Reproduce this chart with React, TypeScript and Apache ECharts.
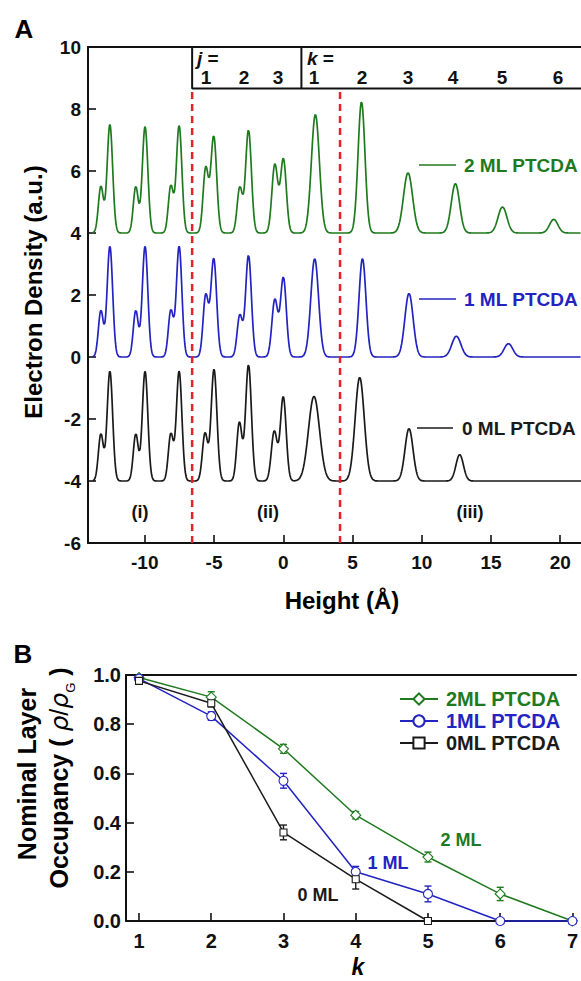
import React, { useEffect, useRef } from "react";
import * as echarts from "echarts";

// ---------- Panel A: electron density profiles (peak parameters) ----------
const PROFILE_START = -13.75; // Å, where the profiles begin
const PROFILE_END = 21.5;
const PROFILE_STEP = 0.02;

const GREEN_BASE = 4;
const GREEN_PEAK_X = [-13.17, -12.52, -10.65, -9.98, -8.12, -7.52, -5.6, -5.02, -3.14, -2.51, -0.61, 0.01, 2.32, 5.65, 9.01, 12.43, 15.83, 19.53];
const GREEN_PEAK_H = [1.5, 3.5, 1.49, 3.43, 1.51, 3.46, 2.08, 3.12, 1.46, 3.32, 2.2, 2.38, 3.82, 4.23, 1.94, 1.59, 0.84, 0.44];
const GREEN_PEAK_W = [0.18, 0.2, 0.18, 0.2, 0.18, 0.2, 0.19, 0.21, 0.19, 0.21, 0.21, 0.21, 0.29, 0.25, 0.33, 0.3, 0.32, 0.3];

const BLUE_BASE = 0;
const BLUE_PEAK_X = [-13.17, -12.52, -10.65, -9.98, -8.12, -7.52, -5.6, -5.02, -3.14, -2.51, -0.61, 0.01, 2.27, 5.72, 9.08, 12.5, 16.26];
const BLUE_PEAK_H = [1.49, 3.57, 1.49, 3.57, 1.49, 3.57, 1.97, 3.17, 1.34, 3.28, 1.84, 2.56, 3.17, 3.17, 2.05, 0.67, 0.43];
const BLUE_PEAK_W = [0.18, 0.2, 0.18, 0.2, 0.18, 0.2, 0.19, 0.21, 0.19, 0.21, 0.21, 0.21, 0.28, 0.25, 0.3, 0.33, 0.31];

const BLACK_BASE = -4;
const BLACK_PEAK_X = [-13.17, -12.52, -10.65, -9.98, -8.12, -7.52, -5.65, -5.0, -3.17, -2.51, -0.65, 0.0, 2.22, 5.52, 9.08, 12.74];
const BLACK_PEAK_H = [1.51, 3.54, 1.51, 3.54, 1.51, 3.54, 1.53, 3.6, 1.88, 3.75, 1.6, 2.71, 2.73, 3.34, 1.69, 0.85];
const BLACK_PEAK_W = [0.18, 0.2, 0.18, 0.2, 0.18, 0.2, 0.19, 0.21, 0.19, 0.21, 0.21, 0.21, 0.4, 0.33, 0.29, 0.27];

const REGION_BOUNDS = [-6.58, 4.1]; // red dashed lines, Å
const BOX_BOTTOM = 8.66;
const BOX_DIVIDER = 1.31;
const A_X_TICKS = [-10, -5, 0, 5, 10, 15, 20];

// ---------- Panel B: nominal layer occupancy ----------
const K_VALUES = [1, 2, 3, 4, 5, 6, 7];
const OCC_2ML = [0.99, 0.91, 0.7, 0.43, 0.26, 0.11, 0.0];
const ERR_2ML = [0.008, 0.022, 0.018, 0.015, 0.02, 0.027, 0];
const OCC_1ML = [0.985, 0.833, 0.57, 0.2, 0.11, 0.0, 0.0];
const ERR_1ML = [0.008, 0.017, 0.03, 0.022, 0.032, 0, 0];
const OCC_0ML = [0.976, 0.885, 0.36, 0.17, 0.0];
const ERR_0ML = [0.012, 0.015, 0.03, 0.04, 0];

const GREEN = "#1f7a1f";
const BLUE = "#2323c2";
const BLACK = "#1a1a1a";
const RED = "#e8202a";
const FONT = "'Liberation Sans', Arial, sans-serif";

function profile(base: number, xs: number[], hs: number[], ws: number[]) {
  const pts: number[][] = [];
  const n = Math.round((PROFILE_END - PROFILE_START) / PROFILE_STEP);
  for (let i = 0; i <= n; i++) {
    const x = PROFILE_START + i * PROFILE_STEP;
    let y = base;
    for (let j = 0; j < xs.length; j++) {
      const d = x - xs[j];
      y += hs[j] * Math.exp(-(d * d) / (2 * ws[j] * ws[j]));
    }
    pts.push([+x.toFixed(3), +y.toFixed(4)]);
  }
  return pts;
}

function errData(vals: number[], errs: number[]) {
  const out: number[][] = [];
  vals.forEach((v, i) => {
    if (errs[i] > 0) out.push([K_VALUES[i], v - errs[i], v + errs[i]]);
  });
  return out;
}

function errSeries(name: string, vals: number[], errs: number[], color: string) {
  return {
    type: "custom",
    name: name + " err",
    xAxisIndex: 2,
    yAxisIndex: 1,
    z: 3,
    silent: true,
    data: errData(vals, errs),
    encode: { x: 0, y: [1, 2] },
    renderItem: (params: any, api: any) => {
      const x = api.value(0);
      const top = api.coord([x, api.value(2)]);
      const bot = api.coord([x, api.value(1)]);
      const w = 3.5;
      const st = { stroke: color, lineWidth: 1.4 };
      return {
        type: "group",
        children: [
          { type: "line", shape: { x1: top[0], y1: top[1], x2: bot[0], y2: bot[1] }, style: st },
          { type: "line", shape: { x1: top[0] - w, y1: top[1], x2: top[0] + w, y2: top[1] }, style: st },
          { type: "line", shape: { x1: bot[0] - w, y1: bot[1], x2: bot[0] + w, y2: bot[1] }, style: st },
        ],
      };
    },
  };
}

function occSeries(name: string, vals: number[], color: string, symbol: string, size: number) {
  return {
    type: "line",
    name,
    xAxisIndex: 2,
    yAxisIndex: 1,
    z: 4,
    clip: false,
    data: vals.map((v, i) => [K_VALUES[i], v]),
    symbol,
    symbolSize: size,
    showSymbol: true,
    lineStyle: { color, width: 1.5 },
    itemStyle: { color: "#ffffff", borderColor: color, borderWidth: 1.1 },
  };
}

function txt(x: number, y: number, text: string, size: number, fill: string, extra: any = {}) {
  return {
    type: "text",
    x,
    y,
    silent: true,
    ...extra,
    style: {
      text,
      fill,
      fontSize: size,
      fontWeight: "bold",
      fontFamily: FONT,
      align: "center",
      verticalAlign: "middle",
      ...(extra.style || {}),
    },
  };
}

function seg(x1: number, y1: number, x2: number, y2: number, color: string, w = 1.6) {
  return { type: "line", silent: true, shape: { x1, y1, x2, y2 }, style: { stroke: color, lineWidth: w } };
}

export default function App() {
  const ref = useRef<HTMLDivElement>(null);
  useEffect(() => {
    if (!ref.current) return;
    const chart = echarts.init(ref.current, undefined, { renderer: "svg" });
    const axisLine = { show: true, onZero: false, lineStyle: { color: "#111", width: 2 } };
    const tick = { show: true, inside: true, length: 8, lineStyle: { color: "#111", width: 1.6 } };
    const lbl = { color: "#111", fontSize: 19, fontWeight: "bold", fontFamily: FONT };
    const jkRich = { i: { fontStyle: "italic", fontWeight: "bold", fontSize: 19, fontFamily: FONT, fill: "#111" } };

    const option: any = {
      animation: false,
      backgroundColor: "#ffffff",
      grid: [
        { left: 88, top: 47, width: 493, height: 496 },
        { left: 126, top: 675, width: 455, height: 246 },
      ],
      xAxis: [
        {
          type: "value", gridIndex: 0, min: -14.1, max: 21.5, position: "bottom",
          axisLine, axisTick: { ...tick, customValues: A_X_TICKS },
          axisLabel: { ...lbl, margin: 10, customValues: A_X_TICKS },
          splitLine: { show: false },
        },
        {
          type: "value", gridIndex: 0, min: -14.1, max: 21.5, position: "top",
          axisLine, axisTick: { show: false }, axisLabel: { show: false }, splitLine: { show: false },
        },
        {
          type: "value", gridIndex: 1, min: 0.82, max: 7.05, position: "bottom",
          axisLine, axisTick: { ...tick, customValues: K_VALUES },
          axisLabel: { ...lbl, fontSize: 20, margin: 10, customValues: K_VALUES },
          splitLine: { show: false },
        },
        {
          type: "value", gridIndex: 1, min: 0.82, max: 7.05, position: "top",
          axisLine, axisTick: { show: false }, axisLabel: { show: false }, splitLine: { show: false },
        },
      ],
      yAxis: [
        {
          type: "value", gridIndex: 0, min: -6, max: 10, interval: 2,
          axisLine, axisTick: tick, axisLabel: { ...lbl, margin: 7 }, splitLine: { show: false },
        },
        {
          type: "value", gridIndex: 1, min: 0, max: 1, interval: 0.2,
          axisLine, axisTick: tick,
          axisLabel: { ...lbl, fontSize: 20, margin: 5, formatter: (v: number) => v.toFixed(1) },
          splitLine: { show: false },
        },
      ],
      legend: {
        orient: "vertical",
        left: 394,
        top: 684,
        itemWidth: 38,
        itemHeight: 14,
        itemGap: 2,
        selectedMode: false,
        textStyle: { fontSize: 20, fontWeight: "bold", fontFamily: FONT, padding: [0, 0, 0, 3] },
        data: [
          { name: "2ML PTCDA", textStyle: { color: GREEN } },
          { name: "1ML PTCDA", textStyle: { color: BLUE } },
          { name: "0ML PTCDA", textStyle: { color: BLACK } },
        ],
      },
      series: [
        {
          type: "line", name: "2 ML profile", xAxisIndex: 0, yAxisIndex: 0, showSymbol: false, silent: true,
          data: profile(GREEN_BASE, GREEN_PEAK_X, GREEN_PEAK_H, GREEN_PEAK_W),
          lineStyle: { color: GREEN, width: 1.7 }, itemStyle: { color: GREEN },
        },
        {
          type: "line", name: "1 ML profile", xAxisIndex: 0, yAxisIndex: 0, showSymbol: false, silent: true,
          data: profile(BLUE_BASE, BLUE_PEAK_X, BLUE_PEAK_H, BLUE_PEAK_W),
          lineStyle: { color: BLUE, width: 1.7 }, itemStyle: { color: BLUE },
        },
        {
          type: "line", name: "0 ML profile", xAxisIndex: 0, yAxisIndex: 0, showSymbol: false, silent: true,
          data: profile(BLACK_BASE, BLACK_PEAK_X, BLACK_PEAK_H, BLACK_PEAK_W),
          lineStyle: { color: BLACK, width: 1.7 }, itemStyle: { color: BLACK },
        },
        ...REGION_BOUNDS.map((b, i) => ({
          type: "line", name: "bound" + i, xAxisIndex: 0, yAxisIndex: 0, showSymbol: false, silent: true, z: 5,
          data: [[b, -6], [b, BOX_BOTTOM]],
          lineStyle: { color: RED, width: 2.5, type: [7, 5] },
        })),
        {
          type: "line", name: "jbox", xAxisIndex: 0, yAxisIndex: 0, showSymbol: false, silent: true, z: 5,
          data: [[REGION_BOUNDS[0], 10], [REGION_BOUNDS[0], BOX_BOTTOM], [21.5, BOX_BOTTOM]],
          lineStyle: { color: "#111", width: 2 },
        },
        {
          type: "line", name: "kbox", xAxisIndex: 0, yAxisIndex: 0, showSymbol: false, silent: true, z: 5,
          data: [[BOX_DIVIDER, 10], [BOX_DIVIDER, BOX_BOTTOM]],
          lineStyle: { color: "#111", width: 2 },
        },
        errSeries("2ML PTCDA", OCC_2ML, ERR_2ML, GREEN),
        errSeries("1ML PTCDA", OCC_1ML, ERR_1ML, BLUE),
        errSeries("0ML PTCDA", OCC_0ML, ERR_0ML, BLACK),
        occSeries("2ML PTCDA", OCC_2ML, GREEN, "diamond", 10),
        occSeries("1ML PTCDA", OCC_1ML, BLUE, "circle", 9),
        occSeries("0ML PTCDA", OCC_0ML, BLACK, "rect", 7),
      ],
      graphic: [
        txt(24, 29, "A", 26, "#000"),
        txt(23, 654, "B", 26, "#000"),
        txt(33, 292, "Electron Density (a.u.)", 24, "#000", { rotation: Math.PI / 2 }),
        txt(342, 600, "Height (Å)", 24, "#000"),
        txt(140, 512, "(i)", 18, "#111"),
        txt(268, 512, "(ii)", 18, "#111"),
        txt(470, 512, "(iii)", 18, "#111"),
        {
          type: "text", x: 197, y: 58, silent: true,
          style: {
            text: "{i|j} =", fill: "#111", fontSize: 19, fontWeight: "bold", fontFamily: FONT,
            align: "left", verticalAlign: "middle", rich: jkRich,
          },
        },
        {
          type: "text", x: 307, y: 58, silent: true,
          style: {
            text: "{i|k} =", fill: "#111", fontSize: 19, fontWeight: "bold", fontFamily: FONT,
            align: "left", verticalAlign: "middle", rich: jkRich,
          },
        },
        txt(206, 77, "1", 19, "#111"),
        txt(244, 77, "2", 19, "#111"),
        txt(278, 77, "3", 19, "#111"),
        txt(314, 77, "1", 19, "#111"),
        txt(362, 77, "2", 19, "#111"),
        txt(408, 77, "3", 19, "#111"),
        txt(453, 77, "4", 19, "#111"),
        txt(502, 77, "5", 19, "#111"),
        txt(558, 77, "6", 19, "#111"),
        seg(419, 165, 456, 165, GREEN),
        txt(464, 165, "2 ML PTCDA", 19, GREEN, { style: { align: "left" } }),
        seg(419, 299, 456, 299, BLUE),
        txt(464, 299, "1 ML PTCDA", 19, BLUE, { style: { align: "left" } }),
        seg(417, 428, 453, 428, BLACK),
        txt(462, 428, "0 ML PTCDA", 19, BLACK, { style: { align: "left" } }),
        txt(461, 840, "2 ML", 18, GREEN),
        txt(388, 863, "1 ML", 18, BLUE),
        txt(318, 895, "0 ML", 18, BLACK),
        txt(27, 774, "Nominal Layer", 25, "#000", { rotation: Math.PI / 2 }),
        {
          type: "text", x: 59, y: 778, rotation: Math.PI / 2, silent: true,
          style: {
            text: "Occupancy ( {r|ρ}{n|/}{r|ρ}{s|G} )",
            fill: "#000", fontSize: 25, fontWeight: "bold", fontFamily: FONT,
            align: "center", verticalAlign: "middle",
            rich: {
              r: { fontStyle: "italic", fontWeight: "normal", fontSize: 25, fontFamily: "'DejaVu Sans', sans-serif", fill: "#000" },
              n: { fontWeight: "normal", fontSize: 25, fontFamily: FONT, fill: "#000" },
              s: { fontWeight: "normal", fontSize: 13, fontFamily: FONT, fill: "#000", verticalAlign: "bottom", lineHeight: 36 },
            },
          },
        },
        {
          type: "text", x: 358, y: 967, silent: true,
          style: {
            text: "k", fill: "#000", fontSize: 23, fontWeight: "bold", fontStyle: "italic", fontFamily: FONT,
            align: "center", verticalAlign: "middle",
          },
        },
      ],
    };
    chart.setOption(option);
    return () => chart.dispose();
  }, []);
  return (
    <div
      ref={ref}
      style={{ position: "fixed", left: 0, top: 0, width: 581, height: 981, background: "#fff" }}
    />
  );
}
